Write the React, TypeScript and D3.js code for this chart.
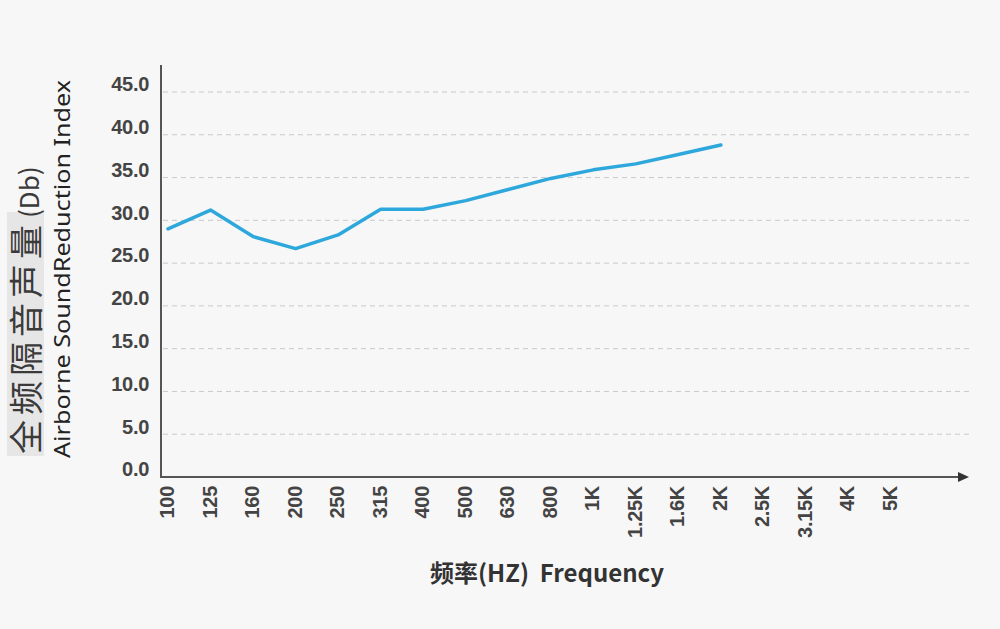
import { useEffect, useRef } from "react";
import * as d3 from "d3";

// frequency bands (x axis) and measured values (only up to 2K)
const bands = ["100", "125", "160", "200", "250", "315", "400", "500", "630", "800",
  "1K", "1.25K", "1.6K", "2K", "2.5K", "3.15K", "4K", "5K"];
const measured = [29.0, 31.2, 28.1, 26.7, 28.3, 31.3, 31.3, 32.3, 33.6, 34.9,
  35.9, 36.6, 37.7, 38.8];
const yTicks = [0, 5, 10, 15, 20, 25, 30, 35, 40, 45];

const width = 1000;
const height = 629;
const margin = { top: 65, right: 30, bottom: 152, left: 161 };

const tickFont = "'Liberation Sans', Arial, sans-serif";

const drawChart = (node: SVGSVGElement) => {
  const svg = d3.select(node);
  svg.selectAll("*").remove();

  svg.append("rect")
    .attr("width", width)
    .attr("height", height)
    .attr("fill", "#f7f7f7");

  const x0 = margin.left;
  const y0 = height - margin.bottom; // 477

  const x = d3.scalePoint<string>()
    .domain(bands)
    .range([168, 891]);

  const y = d3.scaleLinear()
    .domain([0, 45])
    .range([y0, 92]);

  // dashed gridlines
  svg.append("g")
    .selectAll("line")
    .data(yTicks.filter(d => d > 0))
    .join("line")
    .attr("x1", x0 + 2)
    .attr("x2", 970)
    .attr("y1", d => y(d))
    .attr("y2", d => y(d))
    .attr("stroke", "#c9c9c9")
    .attr("stroke-width", 1)
    .attr("stroke-dasharray", "5,4");

  // y tick labels
  svg.append("g")
    .selectAll("text")
    .data(yTicks)
    .join("text")
    .attr("x", 149)
    .attr("y", d => y(d) - 6)
    .attr("text-anchor", "end")
    .attr("dominant-baseline", "middle")
    .attr("font-family", tickFont)
    .attr("font-size", 20)
    .attr("font-weight", 600)
    .attr("letter-spacing", -0.3)
    .attr("fill", "#444")
    .text(d => d.toFixed(1));

  // x tick labels (rotated)
  svg.append("g")
    .selectAll("text")
    .data(bands)
    .join("text")
    .attr("transform", d => `translate(${x(d)! + 6},486) rotate(-90)`)
    .attr("text-anchor", "end")
    .attr("font-family", tickFont)
    .attr("font-size", 20)
    .attr("font-weight", 600)
    .attr("letter-spacing", -0.3)
    .attr("fill", "#444")
    .text(d => d);

  // axes
  svg.append("line")
    .attr("x1", x0).attr("x2", x0)
    .attr("y1", 65).attr("y2", y0 + 1)
    .attr("stroke", "#555")
    .attr("stroke-width", 2);

  svg.append("line")
    .attr("x1", x0 - 1).attr("x2", 960)
    .attr("y1", y0).attr("y2", y0)
    .attr("stroke", "#555")
    .attr("stroke-width", 2);

  svg.append("path")
    .attr("d", d3.line()([[958, y0 - 5], [969, y0], [958, y0 + 5]]) + "Z")
    .attr("fill", "#333");

  // data line
  const line = d3.line<number>()
    .x((_, i) => x(bands[i])!)
    .y(d => y(d));

  svg.append("path")
    .datum(measured)
    .attr("d", line)
    .attr("fill", "none")
    .attr("stroke", "#2ea8dc")
    .attr("stroke-width", 3.5)
    .attr("stroke-linejoin", "round")
    .attr("stroke-linecap", "round");

  // y title
  svg.append("rect")
    .attr("x", 7)
    .attr("y", 212)
    .attr("width", 37)
    .attr("height", 244)
    .attr("fill", "#e6e6e6");

  const yTitle = svg.append("text")
    .attr("transform", "translate(39,454) rotate(-90)")
    .attr("font-family", "'Noto Sans CJK SC', 'Noto Sans', sans-serif")
    .attr("fill", "#3a3a3a");
  yTitle.append("tspan")
    .attr("font-size", 34)
    .attr("letter-spacing", 5)
    .text("全频隔音声量");
  yTitle.append("tspan")
    .attr("font-size", 26)
    .attr("dx", 2)
    .text("(Db)");

  svg.append("text")
    .attr("transform", "translate(70,269) rotate(-90)")
    .attr("text-anchor", "middle")
    .attr("font-family", "'Noto Sans', sans-serif")
    .attr("font-size", 21)
    .attr("textLength", 378)
    .attr("lengthAdjust", "spacingAndGlyphs")
    .attr("fill", "#222")
    .text("Airborne SoundReduction Index");

  // x title
  svg.append("text")
    .attr("x", 547)
    .attr("y", 582)
    .attr("text-anchor", "middle")
    .attr("font-family", "'Noto Sans CJK SC', 'Noto Sans', sans-serif")
    .attr("font-size", 24)
    .attr("font-weight", 600)
    .attr("fill", "#333")
    .style("white-space", "pre")
    .text("频率(HZ)  Frequency");
};

export default function App() {
  const ref = useRef<SVGSVGElement>(null);

  useEffect(() => {
    document.body.style.margin = "0";
    if (ref.current) drawChart(ref.current);
  }, []);

  return <svg ref={ref} width={width} height={height} style={{ display: "block" }} />;
}
